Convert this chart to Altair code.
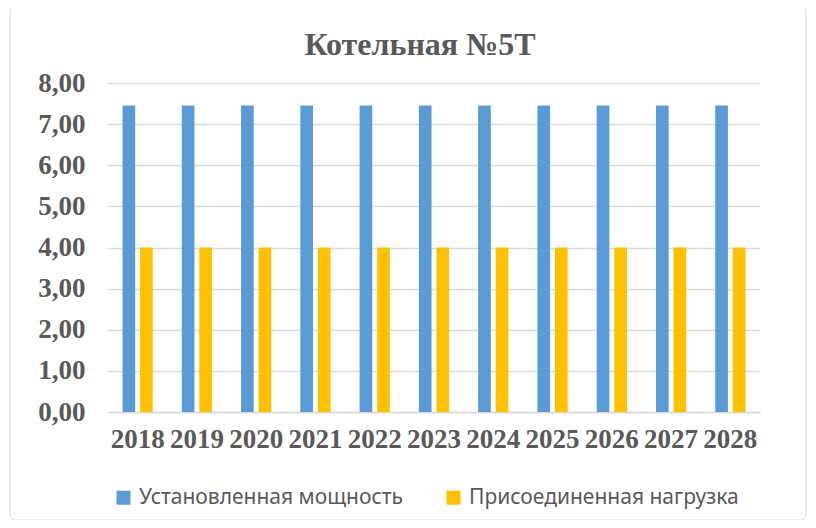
import altair as alt
import pandas as pd

years = ["2018", "2019", "2020", "2021", "2022", "2023", "2024", "2025", "2026", "2027", "2028"]
installed = [7.45] * 11
connected = [4.0] * 11
series_names = ["Установленная мощность", "Присоединенная нагрузка"]
colors = ["#5B9BD5", "#FFC000"]

rows = []
for i, y in enumerate(years):
    rows.append({"year": y, "series": series_names[0], "value": installed[i]})
    rows.append({"year": y, "series": series_names[1], "value": connected[i]})
df = pd.DataFrame(rows)

serif = "Liberation Serif"
sans = "Noto Sans"
gray = "#595959"

bars = alt.Chart(df).mark_bar().encode(
    x=alt.X("year:N", sort=years, title=None,
            scale=alt.Scale(paddingInner=0.49, paddingOuter=0.245),
            axis=alt.Axis(labelAngle=0, labelFont=serif, labelFontWeight="bold",
                          labelFontSize=27, labelColor=gray, labelPadding=14,
                          ticks=False, domainColor="#d9d9d9", domainWidth=1.5,
                          grid=False)),
    xOffset=alt.XOffset("series:N", sort=series_names,
                        scale=alt.Scale(paddingInner=0.28)),
    y=alt.Y("value:Q", title=None,
            scale=alt.Scale(domain=[0, 8]),
            axis=alt.Axis(values=[0, 1, 2, 3, 4, 5, 6, 7, 8],
                          labelExpr="replace(format(datum.value, '.2f'), '.', ',')",
                          labelFont=serif, labelFontWeight="bold", labelFontSize=27,
                          labelColor=gray, labelPadding=23, ticks=False, domain=False,
                          gridColor="#d9d9d9", gridWidth=1.3)),
    color=alt.Color("series:N", sort=series_names,
                    scale=alt.Scale(domain=series_names, range=colors),
                    legend=alt.Legend(title=None, orient="none", direction="horizontal",
                                      legendX=5, legendY=404,
                                      symbolType="square", symbolSize=196,
                                      symbolStrokeWidth=0, labelLimit=500,
                                      labelFont=sans, labelFontSize=21, labelColor=gray,
                                      columnPadding=40, labelOffset=5)),
)

border = alt.Chart(pd.DataFrame({"a": [0]})).mark_rect(
    fill=None, stroke="#d9d9d9", strokeWidth=1, cornerRadius=6
).encode(x=alt.value(-98), x2=alt.value(698), y=alt.value(-78), y2=alt.value(437))

chart = alt.layer(border, bars).properties(
    width=652, height=329,
    title=alt.TitleParams("Котельная №5Т", font=serif, fontSize=32, fontWeight="bold",
                          color=gray, offset=0, dy=57, dx=-14, anchor="middle",
                          frame="group"),
    autosize=alt.AutoSizeParams(type="none"),
    padding={"left": 100, "top": 75, "right": 48, "bottom": 108},
).configure_view(stroke=None)

chart.save("out.html", embed_options={"renderer": "svg", "actions": False})
